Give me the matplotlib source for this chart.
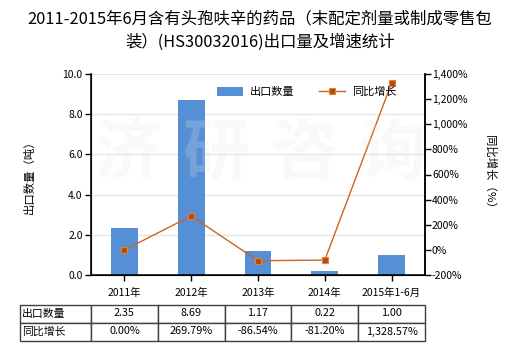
import matplotlib
matplotlib.use("Agg")
import matplotlib.pyplot as plt
from matplotlib.ticker import FuncFormatter, MultipleLocator
import numpy as np

plt.rcParams['font.family'] = ['Noto Sans CJK SC', 'DejaVu Sans']
plt.rcParams['axes.unicode_minus'] = False

# Data
categories = ["2011年", "2012年", "2013年", "2014年", "2015年1-6月"]
export_qty = [2.35, 8.69, 1.17, 0.22, 1.00]
growth_pct = [0.00, 269.79, -86.54, -81.20, 1328.57]
title = "2011-2015年6月含有头孢呋辛的药品（末配定剂量或制成零售包\n装）(HS30032016)出口量及增速统计"
bar_label = "出口数量"
line_label = "同比增长"
left_ylabel = "出口数量（吨）"
right_ylabel = "同比增长（%）"

bar_color = "#5590D6"
line_color = "#CC6420"
grid_color = "#E1E7E7"

fig = plt.figure(figsize=(5.2, 3.5), dpi=100)
W, H = 520, 350
ax_l, ax_r, ax_t, ax_b = 91, 425, 74, 275
ax = fig.add_axes([ax_l / W, 1 - ax_b / H, (ax_r - ax_l) / W, (ax_b - ax_t) / H])

x = np.arange(len(categories))
ax.bar(x, export_qty, width=0.4, color=bar_color, zorder=2, label=bar_label)
ax.set_xlim(-0.5, len(categories) - 0.5)
ax.set_ylim(0, 10)
ax.yaxis.set_major_locator(MultipleLocator(2))
ax.yaxis.set_major_formatter(FuncFormatter(lambda v, p: f"{v:.1f}"))
ax.grid(axis='y', color=grid_color, linewidth=1, zorder=0)
ax.set_xticks(x)
ax.set_xticklabels(categories)
ax.tick_params(axis='both', labelsize=7.5, length=4, width=1, colors='black', pad=2)
ax.tick_params(axis='x', pad=5)
ax.spines['top'].set_visible(False)
for s in ['left', 'bottom', 'right']:
    ax.spines[s].set_linewidth(1.1)
ax.set_ylabel(left_ylabel, fontsize=8.2, labelpad=20)

ax2 = ax.twinx()
ax2.plot(x, growth_pct, color=line_color, linewidth=1.0, marker='s', markersize=4.5,
         markerfacecolor='#B04E0E', markeredgecolor='#E58040', markeredgewidth=0.8,
         zorder=3, label=line_label)
ax2.set_ylim(-200, 1400)
ax2.yaxis.set_major_locator(MultipleLocator(200))
ax2.yaxis.set_major_formatter(FuncFormatter(lambda v, p: f"{v:,.0f}%"))
ax2.tick_params(axis='y', labelsize=7.5, length=4, width=1, pad=1)
ax2.spines['top'].set_visible(False)
ax2.spines['right'].set_linewidth(1.1)
ax2.set_ylabel(right_ylabel, fontsize=8.2, rotation=270, labelpad=20)

# faint watermark across the plot area
for i, ch in enumerate("济研咨询"):
    ax2.text(0.11 + i * 0.265, 0.6, ch, transform=ax.transAxes, fontsize=48,
             fontweight='bold', color='#E4E4E4', alpha=0.22, ha='center', va='center',
             zorder=5)

h1, l1 = ax.get_legend_handles_labels()
h2, l2 = ax2.get_legend_handles_labels()
ax2.legend(h1 + h2, l1 + l2, loc='center right', bbox_to_anchor=(0.945, 0.91), ncol=2,
           frameon=False, fontsize=8, handlelength=2.4, handleheight=0.9,
           columnspacing=2.2, handletextpad=0.6)

fig.text(0.5, 1 - 31 / H, title, ha='center', va='center', fontsize=11.8,
         linespacing=1.45)

# data table under the chart
tbl_left, tbl_right = 20, 425
tbl_top, tbl_bot = 304.5, 340.5
label_w = ax_l - tbl_left
col_w = (ax_r - ax_l) / len(categories)
cell_text = [[bar_label] + [f"{v:.2f}" for v in export_qty],
             [line_label] + [f"{v:,.2f}%" for v in growth_pct]]
table = ax.table(cellText=cell_text,
                 colWidths=[label_w] + [col_w] * len(categories),
                 bbox=[(tbl_left - ax_l) / (ax_r - ax_l), -(tbl_bot - ax_b) / (ax_b - ax_t),
                       (tbl_right - tbl_left) / (ax_r - ax_l), (tbl_bot - tbl_top) / (ax_b - ax_t)],
                 cellLoc='center')
table.auto_set_font_size(False)
for (r, c), cell in table.get_celld().items():
    cell.set_edgecolor('#404040')
    cell.set_linewidth(1.0)
    cell.get_text().set_fontsize(7.8)
    if c == 0:
        cell.get_text().set_ha('left')
        cell.PAD = 0.03

fig.savefig("out.png", dpi=100)
